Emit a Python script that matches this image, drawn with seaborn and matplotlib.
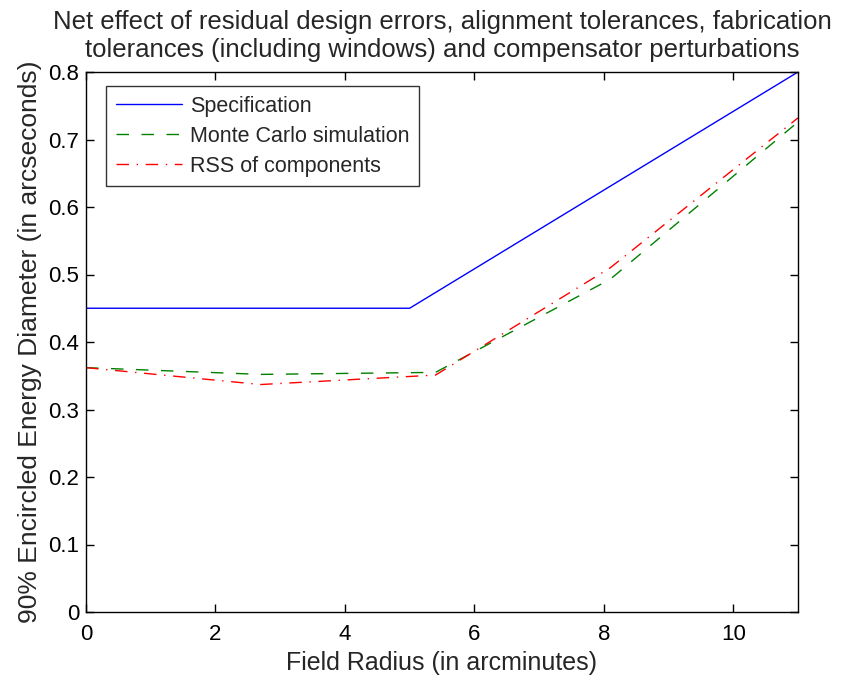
import matplotlib
matplotlib.use("Agg")
import matplotlib.pyplot as plt
import seaborn as sns
import pandas as pd

# Data
spec_x = [0, 5, 11]
spec_y = [0.45, 0.45, 0.80]
mc_x = [0, 2.7, 5.4, 8.1, 11]
mc_y = [0.362, 0.352, 0.355, 0.493, 0.726]
rss_x = [0, 2.7, 5.4, 8.1, 11]
rss_y = [0.362, 0.337, 0.351, 0.510, 0.732]
series_names = ["Specification", "Monte Carlo simulation", "RSS of components"]
x_ticks = [0, 2, 4, 6, 8, 10]
y_ticks = [0, 0.1, 0.2, 0.3, 0.4, 0.5, 0.6, 0.7, 0.8]
y_tick_labels = ["0", "0.1", "0.2", "0.3", "0.4", "0.5", "0.6", "0.7", "0.8"]

sns.set_style("ticks")
plt.rcParams["font.family"] = ["Liberation Sans", "DejaVu Sans"]

df = pd.concat([
    pd.DataFrame({"x": spec_x, "y": spec_y, "series": series_names[0]}),
    pd.DataFrame({"x": mc_x, "y": mc_y, "series": series_names[1]}),
    pd.DataFrame({"x": rss_x, "y": rss_y, "series": series_names[2]}),
], ignore_index=True)

fig = plt.figure(figsize=(8.45, 6.79), dpi=100)
ax = fig.add_axes([86/845, 1 - 612/679, (798-86)/845, (612-72)/679])

palette = {series_names[0]: (0, 0, 1), series_names[1]: (0, 0.5, 0), series_names[2]: (1, 0, 0)}
dashes = {series_names[0]: "", series_names[1]: (9, 9), series_names[2]: (9, 5.5, 1, 5.5)}
sns.lineplot(data=df, x="x", y="y", hue="series", style="series", palette=palette,
             dashes=dashes, linewidth=1.0, ax=ax, sort=False, estimator=None)

ax.set_xlim(0, 11)
ax.set_ylim(0, 0.8)
ax.set_xticks(x_ticks)
ax.set_xticklabels([str(t) for t in x_ticks])
ax.set_yticks(y_ticks)
ax.set_yticklabels(y_tick_labels)
ax.tick_params(direction="in", length=6, width=1, labelsize=16, top=True, right=True, colors="black")
ax.tick_params(axis="x", pad=9)
ax.tick_params(axis="y", pad=5)
for s in ax.spines.values():
    s.set_visible(True)
    s.set_linewidth(1.0)
    s.set_color("black")

ax.set_xlabel("Field Radius (in arcminutes)", fontsize=18, labelpad=4)
ax.set_ylabel("90% Encircled Energy Diameter (in arcseconds)", fontsize=19, labelpad=4)
ax.set_title("Net effect of residual design errors, alignment tolerances, fabrication\n"
             "tolerances (including windows) and compensator perturbations",
             fontsize=18.5, pad=11, linespacing=1.2)

leg = ax.legend(loc="upper left", bbox_to_anchor=(0.028, 0.974), borderaxespad=0, frameon=True,
                fancybox=False, edgecolor="black", fontsize=15.5, handlelength=3.1, borderpad=0.45,
                labelspacing=0.42, handletextpad=0.35)
leg.get_frame().set_linewidth(1.0)

fig.savefig("out.png", dpi=100)
